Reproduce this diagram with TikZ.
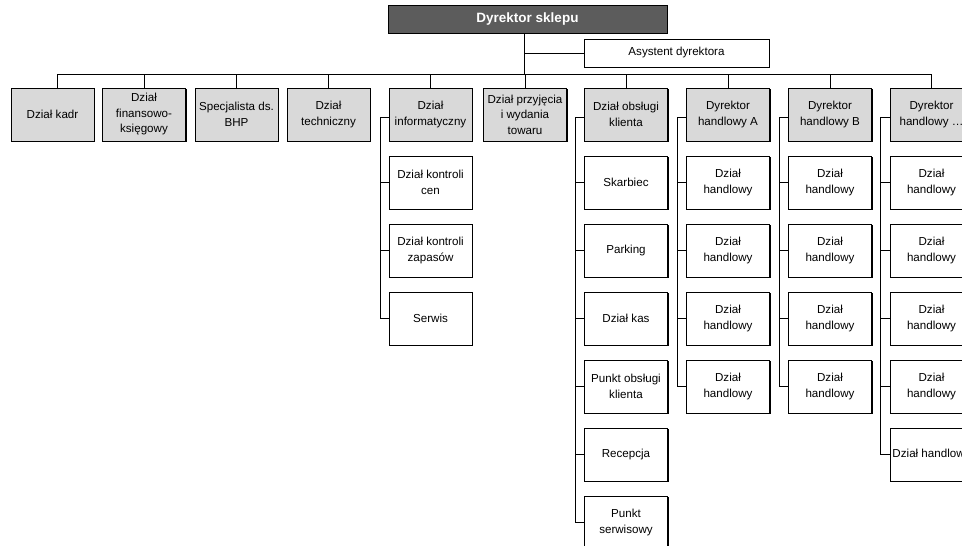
\documentclass[tikz,border=0pt]{standalone}
\usepackage{fontspec}
\setmainfont{Liberation Sans}
\usetikzlibrary{shadows}
\begin{document}
\begin{tikzpicture}[x=1pt,y=-1pt,
  box/.style={draw=black, line width=0.6pt, minimum width=83pt, minimum height=53pt,
    inner sep=1pt, align=center, font=\fontsize{11.6}{15.5}\selectfont,
    drop shadow={shadow xshift=1pt, shadow yshift=-1pt, opacity=1, fill=black}},
  dept/.style={box, fill=black!15},
  unit/.style={box, fill=white},
  link/.style={line width=0.7pt, draw=black}
]
\useasboundingbox (0,0) rectangle (962,546);
\clip (0,0) rectangle (962,546);

% management
\node[box, fill=black!64, text=white, font=\fontsize{13.5}{16}\selectfont\bfseries,
  minimum width=279pt, minimum height=28pt] (top) at (527.5,19) {Dyrektor sklepu};
\node[unit, minimum width=185pt, minimum height=28pt] (asst) at (676.5,53) {Asystent dyrektora};
\coordinate (bus) at (524,74);

% first level departments
\node[dept] (k1)  at (52.5,114.5)  {Dział kadr};
\node[dept] (k2)  at (144,114.5)   {Dział\\finansowo-\\księgowy};
\node[dept] (k3)  at (236.5,114.5) {Specjalista ds.\\BHP};
\node[dept] (k4)  at (328.5,114.5) {Dział\\techniczny};
\node[dept] (k5)  at (430.5,114.5) {Dział\\informatyczny};
\node[dept] (k6)  at (525,114.5)   {Dział przyjęcia\\i wydania\\towaru};
\node[dept] (k7)  at (626,114.5)   {Dział obsługi\\klienta};
\node[dept] (k8)  at (728,114.5)   {Dyrektor\\handlowy A};
\node[dept] (k9)  at (830,114.5)   {Dyrektor\\handlowy B};
\node[dept] (k10) at (931.5,114.5) {Dyrektor\\handlowy …};

% units under IT
\node[unit] (i1) at (430.5,182.5) {Dział kontroli\\cen};
\node[unit] (i2) at (430.5,250.5) {Dział kontroli\\zapasów};
\node[unit] (i3) at (430.5,318.5) {Serwis};

% units under customer service
\node[unit] (o1) at (626,182.5) {Skarbiec};
\node[unit] (o2) at (626,250.5) {Parking};
\node[unit] (o3) at (626,318.5) {Dział kas};
\node[unit] (o4) at (626,386.5) {Punkt obsługi\\klienta};
\node[unit] (o5) at (626,454.5) {Recepcja};
\node[unit] (o6) at (626,522.5) {Punkt\\serwisowy};

% sales units
\foreach \i/\y in {1/182.5,2/250.5,3/318.5,4/386.5}{
  \node[unit] (a\i) at (728,\y) {Dział\\handlowy};
  \node[unit] (b\i) at (830,\y) {Dział\\handlowy};
  \node[unit] (c\i) at (931.5,\y) {Dział\\handlowy};
}
\node[unit] (c5) at (931.5,454.5) {Dział handlowy};

% connectors: director, assistant, bus
\draw[link] ([xshift=-3.5pt]top.south) -- (bus);
\draw[link] (asst.west) -- (asst.west -| bus);
\draw[link] ([xshift=4.5pt]k1.north |- bus) -- (k10.north |- bus);
\draw[link] ([xshift=4.5pt]k1.north) -- ([xshift=4.5pt]k1.north |- bus);
\foreach \n in {k2,k3,k4,k5,k6,k7,k8,k9,k10}
  \draw[link] (\n.north) -- (\n.north |- bus);

% connectors: child columns
\draw[link] ([yshift=-2.5pt]k5.west) -| ([xshift=-8pt]i3.west) -- (i3.west);
\foreach \n in {i1,i2} \draw[link] (\n.west) -- ++(-8,0);

\draw[link] ([yshift=-2.5pt]k7.west) -| ([xshift=-9pt]o6.west) -- (o6.west);
\foreach \n in {o1,o2,o3,o4,o5} \draw[link] (\n.west) -- ++(-9,0);

\draw[link] ([yshift=-2.5pt]k8.west) -| ([xshift=-9pt]a4.west) -- (a4.west);
\foreach \n in {a1,a2,a3} \draw[link] (\n.west) -- ++(-9,0);

\draw[link] ([yshift=-2.5pt]k9.west) -| ([xshift=-9pt]b4.west) -- (b4.west);
\foreach \n in {b1,b2,b3} \draw[link] (\n.west) -- ++(-9,0);

\draw[link] ([yshift=-2.5pt]k10.west) -| ([xshift=-9pt]c5.west) -- (c5.west);
\foreach \n in {c1,c2,c3,c4} \draw[link] (\n.west) -- ++(-9,0);
\end{tikzpicture}
\end{document}
